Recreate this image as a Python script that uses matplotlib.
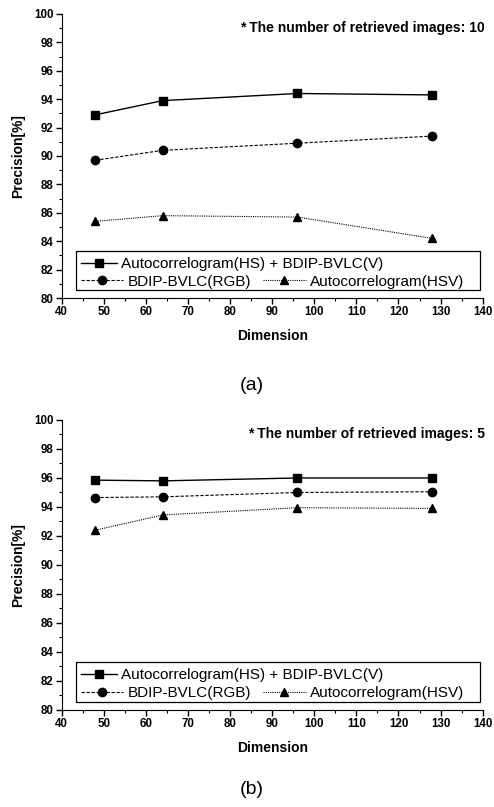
import matplotlib
matplotlib.use("Agg")
import matplotlib.pyplot as plt
from matplotlib.patches import Rectangle
from matplotlib.ticker import MultipleLocator

plt.rcParams['font.family'] = ['Liberation Sans', 'DejaVu Sans']

dimension = [48, 64, 96, 128]
labels = ["Autocorrelogram(HS) + BDIP-BVLC(V)", "BDIP-BVLC(RGB)", "Autocorrelogram(HSV)"]

# (a) 10 retrieved images
hs_bdip_10 = [92.9, 93.9, 94.4, 94.3]
bdip_rgb_10 = [89.7, 90.4, 90.9, 91.4]
auto_hsv_10 = [85.4, 85.8, 85.7, 84.2]

# (b) 5 retrieved images
hs_bdip_5 = [95.85, 95.8, 96.0, 96.0]
bdip_rgb_5 = [94.65, 94.7, 95.0, 95.05]
auto_hsv_5 = [92.4, 93.45, 93.95, 93.9]

styles = [dict(ls='-', marker='s', lw=1.0),
          dict(ls=(0, (3, 1.5)), marker='o', lw=0.8),
          dict(ls=(0, (1, 1)), marker='^', lw=0.8)]


def panel(ax, series, note):
    hs = []
    for ys, st in zip(series, styles):
        h, = ax.plot(dimension, ys, color='black', ms=6, clip_on=False, **st)
        hs.append(h)
    ax.set_xlim(40, 140)
    ax.set_ylim(80, 100)
    ax.xaxis.set_major_locator(MultipleLocator(10))
    ax.xaxis.set_minor_locator(MultipleLocator(5))
    ax.yaxis.set_major_locator(MultipleLocator(2))
    ax.yaxis.set_minor_locator(MultipleLocator(1))
    ax.spines['top'].set_visible(False)
    ax.spines['right'].set_visible(False)
    ax.tick_params(which='major', direction='out', length=4, width=1, labelsize=8.3, pad=2)
    ax.tick_params(which='minor', direction='out', length=2, width=0.8)
    for t in ax.get_xticklabels() + ax.get_yticklabels():
        t.set_fontweight('bold')
    ax.set_xlabel("Dimension", fontsize=10, fontweight='bold', labelpad=8)
    ax.set_ylabel("Precision[%]", fontsize=10, fontweight='bold', labelpad=6)
    ax.text(1.005, 0.95, note, transform=ax.transAxes, ha='right', va='center',
            fontsize=10, fontweight='bold')

    # legend: one entry on the first row, two on the second
    ax.add_patch(Rectangle((0.034, 0.028), 0.96, 0.137, transform=ax.transAxes,
                           fill=False, lw=0.9, ec='black', zorder=5, clip_on=False))
    leg1 = ax.legend([hs[0]], [labels[0]], loc='center left',
                     bbox_to_anchor=(0.045, 0.12), frameon=False, fontsize=11,
                     handlelength=2.4, handletextpad=0.25, borderpad=0, borderaxespad=0)
    ax.add_artist(leg1)
    ax.legend(hs[1:], labels[1:], ncol=2, loc='center left',
              bbox_to_anchor=(0.045, 0.058), frameon=False, fontsize=11,
              handlelength=2.8, handletextpad=0.25, columnspacing=0.8,
              borderpad=0, borderaxespad=0)


fig = plt.figure(figsize=(4.94, 8.07), dpi=100)
ax1 = fig.add_axes([0.125, 0.6307, 0.852, 0.352])
ax2 = fig.add_axes([0.125, 0.1202, 0.852, 0.3594])

panel(ax1, [hs_bdip_10, bdip_rgb_10, auto_hsv_10], "* The number of retrieved images: 10")
panel(ax2, [hs_bdip_5, bdip_rgb_5, auto_hsv_5], "* The number of retrieved images: 5")

fig.text(0.51, 1 - 385 / 807, "(a)", ha='center', va='center', fontsize=14)
fig.text(0.51, 1 - 790 / 807, "(b)", ha='center', va='center', fontsize=14)

fig.savefig("out.png", dpi=100)
